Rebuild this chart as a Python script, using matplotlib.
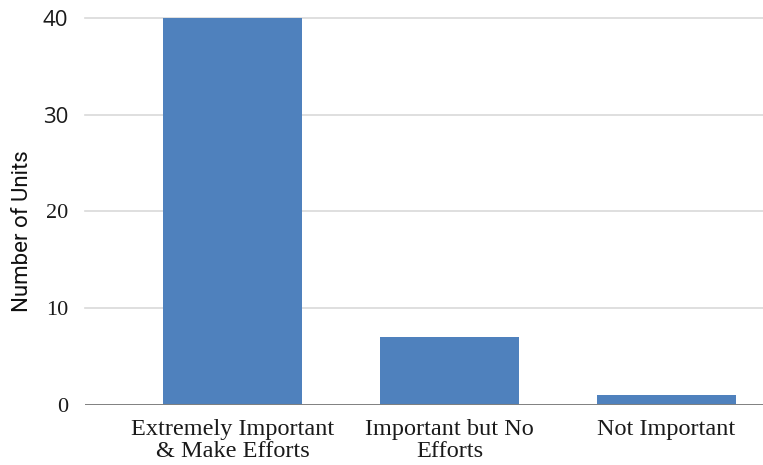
import matplotlib

matplotlib.use("Agg")
import matplotlib.pyplot as plt

categories = ["Extremely Important\n& Make Efforts", "Important but No\nEfforts", "Not Important"]
units = [40, 7, 1]
y_ticks = [0, 10, 20, 30, 40]

fig = plt.figure(figsize=(7.63, 4.65), dpi=100)
ax = fig.add_axes([85 / 763, 1 - 405 / 465, 1 - 85 / 763, (405 - 18) / 465])

x = list(range(len(categories)))
ax.bar(x, units, width=0.64, color="#4f81bd", zorder=3)

for t in y_ticks[1:]:
    ax.axhline(t, color="#d9d9d9", linewidth=1.2, zorder=1, clip_on=False)
ax.axhline(0, color="#808080", linewidth=1.4, zorder=4)

ax.set_xlim(-0.68, 2.445)
ax.set_ylim(0, 40)
for s in ax.spines.values():
    s.set_visible(False)

ax.set_xticks(x)
ax.set_xticklabels(categories, family="Liberation Serif", fontsize=17.5, color="#1a1a1a", linespacing=1.08)
ax.set_yticks(y_ticks)
ax.set_yticklabels([str(t) for t in y_ticks], family="Liberation Serif", fontsize=16, color="#1a1a1a")
# the top two labels in the source look like a sans face
for lab in ax.get_yticklabels()[3:]:
    lab.set_family("Open Sans")
ax.tick_params(axis="both", length=0)
ax.tick_params(axis="y", pad=12)
ax.tick_params(axis="x", pad=10)

fig.text(23 / 763, 1 - 231 / 465, "Number of Units", rotation=90, ha="center", va="center",
         family="Roboto", fontsize=16, color="#111111")

fig.savefig("out.png")
